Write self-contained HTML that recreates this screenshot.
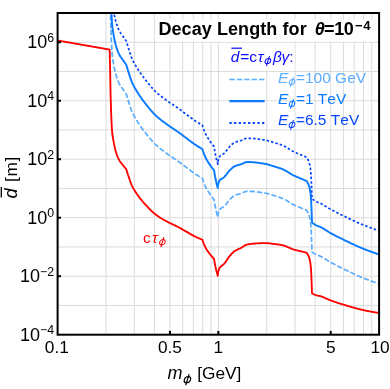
<!DOCTYPE html>
<html><head><meta charset="utf-8"><title>Decay Length</title>
<style>html,body{margin:0;padding:0;background:#fff;overflow:hidden}svg{display:block;will-change:transform}text{font-kerning:none}</style></head>
<body>
<svg width="390" height="389" viewBox="0 0 390 389">
<rect width="390" height="389" fill="#fff"/>
<defs><clipPath id="c"><rect x="57.60" y="13.00" width="321.50" height="321.70"/></clipPath></defs>
<g stroke="#dcdcdc" stroke-width="1" fill="none">
<line x1="105.99" y1="13.00" x2="105.99" y2="334.70"/>
<line x1="134.30" y1="13.00" x2="134.30" y2="334.70"/>
<line x1="154.38" y1="13.00" x2="154.38" y2="334.70"/>
<line x1="169.96" y1="13.00" x2="169.96" y2="334.70"/>
<line x1="182.69" y1="13.00" x2="182.69" y2="334.70"/>
<line x1="193.45" y1="13.00" x2="193.45" y2="334.70"/>
<line x1="202.77" y1="13.00" x2="202.77" y2="334.70"/>
<line x1="210.99" y1="13.00" x2="210.99" y2="334.70"/>
<line x1="218.35" y1="13.00" x2="218.35" y2="334.70"/>
<line x1="266.74" y1="13.00" x2="266.74" y2="334.70"/>
<line x1="295.05" y1="13.00" x2="295.05" y2="334.70"/>
<line x1="315.13" y1="13.00" x2="315.13" y2="334.70"/>
<line x1="330.71" y1="13.00" x2="330.71" y2="334.70"/>
<line x1="343.44" y1="13.00" x2="343.44" y2="334.70"/>
<line x1="354.20" y1="13.00" x2="354.20" y2="334.70"/>
<line x1="363.52" y1="13.00" x2="363.52" y2="334.70"/>
<line x1="371.74" y1="13.00" x2="371.74" y2="334.70"/>
<line x1="57.60" y1="305.45" x2="379.10" y2="305.45"/>
<line x1="57.60" y1="276.21" x2="379.10" y2="276.21"/>
<line x1="57.60" y1="246.96" x2="379.10" y2="246.96"/>
<line x1="57.60" y1="217.72" x2="379.10" y2="217.72"/>
<line x1="57.60" y1="188.47" x2="379.10" y2="188.47"/>
<line x1="57.60" y1="159.23" x2="379.10" y2="159.23"/>
<line x1="57.60" y1="129.98" x2="379.10" y2="129.98"/>
<line x1="57.60" y1="100.74" x2="379.10" y2="100.74"/>
<line x1="57.60" y1="71.49" x2="379.10" y2="71.49"/>
<line x1="57.60" y1="42.25" x2="379.10" y2="42.25"/>
</g>
<g clip-path="url(#c)" fill="none" stroke-linejoin="round">
<path d="M109.65 -28.67L109.65 -28.67L109.66 -28.16L109.68 -27.66L109.69 -27.16L109.70 -26.66L109.71 -26.16L109.73 -25.65L109.74 -25.15L109.75 -24.65L109.76 -24.15L109.78 -23.65L109.79 -23.14L109.80 -22.64L109.81 -22.14L109.83 -21.64L109.84 -21.13L109.85 -20.63L109.86 -20.13L109.87 -19.63L109.89 -19.13L109.90 -18.62L109.91 -18.12L109.92 -17.62L109.93 -17.12L109.94 -16.62L109.96 -16.11L109.97 -15.61L109.98 -15.11L109.99 -14.61L110.00 -14.11L110.01 -13.61L110.02 -13.10L110.04 -12.60L110.05 -12.10L110.06 -11.60L110.07 -11.10L110.08 -10.59L110.09 -10.09L110.10 -9.59L110.11 -9.09L110.12 -8.59L110.13 -8.08L110.14 -7.58L110.15 -7.08L110.16 -6.58L110.17 -6.08L110.18 -5.58L110.19 -5.07L110.20 -4.57L110.21 -4.07L110.22 -3.57L110.23 -3.07L110.24 -2.57L110.25 -2.06L110.26 -1.56L110.27 -1.06L110.28 -0.56L110.28 -0.06L110.29 0.44L110.30 0.94L110.31 1.45L110.32 1.95L110.33 2.45L110.33 2.95L110.34 3.45L110.35 3.95L110.36 4.45L110.37 4.96L110.38 5.46L110.39 5.96L110.39 6.46L110.40 6.96L110.41 7.46L110.42 7.97L110.43 8.47L110.44 8.97L110.45 9.47L110.46 9.97L110.47 10.47L110.47 10.97L110.48 11.48L110.49 11.98L110.50 12.48L110.51 12.98L110.52 13.48L110.53 13.98L110.55 14.49L110.56 14.99L110.57 15.49L110.58 15.99L110.59 16.49L110.60 17.00L110.61 17.50L110.63 18.00L110.64 18.50L110.65 19.01L110.67 19.51L110.68 20.01L110.70 20.51L110.71 21.01L110.73 21.52L110.74 22.02L110.76 22.52L110.77 23.03L110.79 23.53L110.81 24.03L110.82 24.53L110.84 25.04L110.86 25.54L110.87 26.04L110.89 26.54L110.90 27.05L110.92 27.55L110.93 28.05L110.95 28.55L110.96 29.06L110.98 29.56L110.99 30.06L111.01 30.56L111.03 31.07L111.04 31.57L111.06 32.07L111.07 32.57L111.09 33.08L111.10 33.58L111.12 34.08L111.14 34.59L111.16 35.09L111.17 35.59L111.19 36.09L111.21 36.60L111.23 37.10L111.25 37.60L111.27 38.11L111.29 38.61L111.31 39.11L111.33 39.62L111.35 40.12L111.37 40.62L111.39 41.13L111.41 41.63L111.44 42.14L111.46 42.64L111.48 43.14L111.50 43.65L111.53 44.15L111.55 44.66L111.58 45.16L111.60 45.67L111.63 46.17L111.65 46.68L111.68 47.18L111.71 47.68L111.74 48.19L111.76 48.69L111.80 49.20L111.83 49.70L111.86 50.21L111.89 50.71L111.93 51.22L111.96 51.72L112.00 52.23L112.03 52.73L112.07 53.23L112.11 53.74L112.15 54.24L112.20 54.75L112.25 55.25L112.31 55.76L112.37 56.27L112.43 56.78L112.50 57.28L112.57 57.79L112.65 58.30L112.72 58.81L112.80 59.32L112.88 59.83L112.96 60.34L113.05 60.84L113.13 61.35L113.21 61.86L113.30 62.37L113.38 62.88L113.46 63.39L113.55 63.89L113.64 64.40L113.73 64.91L113.82 65.42L113.92 65.93L114.01 66.44L114.11 66.95L114.22 67.45L114.32 67.96L114.43 68.47L114.53 68.98L114.64 69.48L114.76 69.99L114.87 70.50L114.98 71.01L115.10 71.52L115.22 72.03L115.34 72.54L115.47 73.05L115.59 73.56L115.73 74.06L115.86 74.57L116.00 75.08L116.14 75.58L116.29 76.08L116.44 76.59L116.59 77.09L116.75 77.58L116.92 78.08L117.10 78.58L117.28 79.08L117.47 79.58L117.66 80.08L117.86 80.58L118.07 81.08L118.29 81.58L118.51 82.07L118.73 82.56L118.97 83.05L119.20 83.53L119.45 84.01L119.69 84.48L119.95 84.94L120.22 85.41L120.50 85.86L120.80 86.32L121.11 86.77L121.43 87.21L121.75 87.66L122.07 88.10L122.40 88.55L122.73 88.99L123.05 89.44L123.37 89.88L123.68 90.33L123.99 90.78L124.30 91.23L124.61 91.67L124.93 92.12L125.24 92.57L125.56 93.01L125.87 93.46L126.19 93.90L126.30 94.06L126.30 94.06L126.45 94.57L126.59 95.07L126.74 95.58L126.89 96.08L127.04 96.59L127.19 97.09L127.34 97.59L127.49 98.10L127.64 98.60L127.80 99.11L127.95 99.61L128.11 100.11L128.26 100.62L128.42 101.12L128.58 101.62L128.74 102.13L128.90 102.63L129.06 103.13L129.22 103.63L129.39 104.14L129.55 104.64L129.71 105.14L129.88 105.64L130.04 106.15L130.20 106.65L130.36 107.16L130.52 107.66L130.69 108.17L130.86 108.67L131.03 109.17L131.21 109.66L131.40 110.16L131.60 110.65L131.80 111.13L132.02 111.62L132.23 112.11L132.46 112.59L132.69 113.08L132.92 113.56L133.16 114.05L133.41 114.53L133.66 115.01L133.92 115.49L134.17 115.97L134.44 116.45L134.70 116.92L134.97 117.40L135.24 117.87L135.51 118.35L135.79 118.82L136.07 119.29L136.35 119.76L136.63 120.22L136.91 120.69L137.19 121.15L137.47 121.61L137.75 122.07L138.04 122.53L138.33 122.98L138.62 123.44L138.92 123.89L139.22 124.35L139.52 124.80L139.83 125.25L140.14 125.70L140.45 126.15L140.76 126.60L141.08 127.05L141.40 127.49L141.72 127.94L142.04 128.38L142.37 128.83L142.69 129.27L143.02 129.71L143.35 130.14L143.68 130.58L144.02 131.02L144.35 131.45L144.68 131.88L145.02 132.32L145.36 132.75L145.69 133.17L146.03 133.60L146.37 134.03L146.71 134.46L147.05 134.89L147.39 135.32L147.73 135.75L148.08 136.18L148.43 136.60L148.77 137.03L149.12 137.46L149.47 137.89L149.83 138.31L150.18 138.73L150.54 139.15L150.90 139.57L151.26 139.99L151.62 140.41L151.98 140.82L152.35 141.23L152.72 141.64L153.09 142.04L153.46 142.44L153.84 142.84L154.22 143.23L154.60 143.62L154.98 144.00L155.36 144.38L155.75 144.75L156.14 145.12L156.54 145.49L156.94 145.85L157.34 146.21L157.75 146.57L158.16 146.92L158.58 147.27L158.99 147.62L159.42 147.97L159.84 148.31L160.27 148.65L160.70 148.99L161.13 149.32L161.56 149.66L162.00 149.99L162.44 150.32L162.87 150.65L163.31 150.98L163.75 151.31L164.19 151.63L164.63 151.96L165.07 152.28L165.51 152.60L165.95 152.92L166.38 153.25L166.82 153.56L167.26 153.88L167.70 154.19L168.14 154.51L168.59 154.81L169.03 155.12L169.48 155.43L169.93 155.73L170.38 156.03L170.83 156.33L171.28 156.63L171.73 156.93L172.18 157.23L172.63 157.53L173.08 157.83L173.53 158.13L173.99 158.43L174.44 158.72L174.89 159.02L175.34 159.32L175.79 159.63L176.24 159.93L176.68 160.23L177.13 160.54L177.58 160.85L178.02 161.16L178.46 161.47L178.90 161.79L179.34 162.11L179.78 162.43L180.22 162.75L180.65 163.08L181.08 163.40L181.52 163.73L181.95 164.06L182.38 164.39L182.82 164.72L183.25 165.05L183.68 165.38L184.12 165.71L184.55 166.03L184.98 166.36L185.42 166.69L185.86 167.01L186.29 167.34L186.72 167.67L187.16 167.99L187.59 168.32L188.03 168.65L188.46 168.98L188.89 169.31L189.33 169.64L189.76 169.97L190.19 170.30L190.63 170.63L191.06 170.95L191.50 171.28L191.94 171.60L192.38 171.92L192.82 172.24L193.26 172.56L193.70 172.87L194.14 173.18L194.59 173.49L195.03 173.79L195.48 174.09L195.93 174.39L196.38 174.68L196.83 174.97L197.29 175.26L197.74 175.55L198.20 175.83L198.66 176.11L199.12 176.39L199.58 176.67L200.04 176.95L200.51 177.22L200.97 177.49L201.44 177.76L201.91 178.03L202.37 178.29L202.40 178.31L202.40 178.31L202.54 178.82L202.69 179.33L202.85 179.84L203.01 180.35L203.18 180.86L203.35 181.36L203.53 181.87L203.72 182.37L203.91 182.87L204.10 183.36L204.30 183.86L204.51 184.35L204.72 184.84L204.93 185.33L205.15 185.81L205.36 186.30L205.59 186.78L205.81 187.26L206.05 187.73L206.29 188.21L206.54 188.68L206.81 189.15L207.08 189.63L207.35 190.09L207.64 190.56L207.92 191.03L208.22 191.49L208.51 191.95L208.81 192.41L209.11 192.87L209.42 193.33L209.72 193.78L210.03 194.23L210.33 194.68L210.64 195.12L210.96 195.57L211.28 196.01L211.60 196.45L211.93 196.89L212.26 197.32L212.59 197.76L212.93 198.19L213.27 198.62L213.62 199.05L213.96 199.47L214.10 199.64L214.10 199.64L214.17 200.15L214.24 200.66L214.31 201.16L214.39 201.67L214.47 202.18L214.55 202.69L214.63 203.20L214.72 203.71L214.81 204.22L214.90 204.73L214.99 205.23L215.09 205.74L215.18 206.25L215.28 206.76L215.38 207.27L215.48 207.77L215.59 208.28L215.69 208.79L215.80 209.30L215.91 209.80L216.02 210.31L216.13 210.82L216.24 211.32L216.36 211.83L216.48 212.34L216.60 212.84L216.73 213.35L216.86 213.86L217.00 214.36L217.14 214.87L217.28 215.37L217.42 215.88L217.56 216.39L217.71 216.89L217.80 217.21L217.80 217.21L217.81 216.65L217.84 216.11L217.88 215.58L217.94 215.06L218.01 214.55L218.09 214.05L218.19 213.57L218.30 213.09L218.41 212.63L218.54 212.19L218.67 211.75L218.81 211.33L218.95 210.92L219.10 210.52L219.25 210.14L219.45 209.78L219.70 209.45L220.00 209.14L220.34 208.85L220.71 208.58L221.10 208.32L221.51 208.06L221.93 207.81L222.36 207.56L222.79 207.30L223.20 207.04L223.60 206.77L223.98 206.49L224.32 206.19L224.64 205.86L224.95 205.53L225.25 205.19L225.54 204.84L225.83 204.48L226.11 204.12L226.39 203.75L226.67 203.38L226.94 203.01L227.21 202.63L227.49 202.26L227.77 201.89L228.05 201.53L228.33 201.17L228.62 200.81L228.92 200.46L229.22 200.13L229.54 199.80L229.86 199.48L230.18 199.15L230.51 198.82L230.84 198.49L231.17 198.17L231.51 197.85L231.85 197.54L232.20 197.23L232.56 196.94L232.92 196.65L233.29 196.38L233.66 196.12L234.04 195.88L234.42 195.66L234.82 195.46L235.23 195.27L235.65 195.10L236.08 194.95L236.53 194.80L236.98 194.67L237.44 194.54L237.90 194.41L238.36 194.29L238.83 194.17L239.29 194.05L239.75 193.92L240.21 193.78L240.66 193.64L241.10 193.49L241.54 193.31L241.97 193.12L242.41 192.92L242.84 192.72L243.27 192.51L243.70 192.31L244.13 192.11L244.56 191.93L245.00 191.76L245.44 191.61L245.88 191.49L246.33 191.40L246.79 191.34L247.25 191.31L247.73 191.29L248.20 191.28L248.69 191.28L249.18 191.28L249.67 191.29L250.17 191.30L250.67 191.32L251.17 191.34L251.67 191.37L252.18 191.41L252.68 191.44L253.19 191.49L253.69 191.54L254.20 191.59L254.70 191.64L255.20 191.70L255.69 191.76L256.19 191.82L256.69 191.89L257.19 191.95L257.69 192.01L258.19 192.08L258.69 192.14L259.19 192.21L259.69 192.28L260.19 192.35L260.69 192.42L261.19 192.49L261.69 192.57L262.19 192.64L262.69 192.72L263.19 192.80L263.69 192.88L264.19 192.96L264.69 193.05L265.19 193.13L265.69 193.22L266.19 193.32L266.69 193.43L267.18 193.55L267.68 193.67L268.18 193.81L268.68 193.95L269.17 194.10L269.67 194.25L270.17 194.40L270.67 194.56L271.16 194.72L271.66 194.88L272.16 195.04L272.65 195.20L273.15 195.35L273.65 195.50L274.14 195.65L274.64 195.80L275.14 195.95L275.64 196.10L276.14 196.25L276.64 196.41L277.14 196.56L277.64 196.72L278.13 196.88L278.63 197.04L279.13 197.20L279.62 197.36L280.11 197.53L280.61 197.70L281.09 197.88L281.58 198.05L282.07 198.24L282.55 198.42L283.03 198.62L283.50 198.84L283.98 199.06L284.45 199.30L284.92 199.54L285.39 199.80L285.85 200.06L286.32 200.33L286.78 200.61L287.24 200.89L287.71 201.18L288.17 201.47L288.63 201.76L289.09 202.05L289.55 202.34L290.02 202.63L290.48 202.92L290.94 203.20L291.41 203.48L291.87 203.75L292.34 204.02L292.81 204.27L293.29 204.52L293.76 204.76L294.24 204.99L294.72 205.21L295.20 205.43L295.68 205.64L296.17 205.86L296.65 206.06L297.14 206.27L297.63 206.47L298.11 206.68L298.60 206.88L299.09 207.08L299.58 207.29L300.06 207.50L300.55 207.70L301.03 207.91L301.52 208.12L302.00 208.33L302.49 208.53L302.98 208.74L303.46 208.95L303.95 209.15L304.43 209.36L304.92 209.56L305.41 209.77L305.89 209.97L306.38 210.18L306.60 210.27L306.60 210.27L306.88 210.75L307.16 211.23L307.43 211.72L307.70 212.20L307.95 212.69L308.20 213.18L308.43 213.67L308.65 214.16L308.85 214.65L309.02 215.14L309.18 215.63L309.31 216.12L309.43 216.61L309.55 217.10L309.66 217.60L309.76 218.10L309.87 218.61L309.96 219.11L310.06 219.62L310.15 220.13L310.23 220.65L310.31 221.16L310.39 221.67L310.46 222.19L310.53 222.70L310.59 223.22L310.65 223.73L310.71 224.25L310.76 224.76L310.81 225.27L310.85 225.77L310.89 226.28L310.93 226.78L310.97 227.29L311.00 227.79L311.03 228.29L311.07 228.80L311.10 229.30L311.12 229.81L311.15 230.31L311.18 230.81L311.20 231.32L311.22 231.82L311.25 232.33L311.27 232.83L311.29 233.34L311.31 233.84L311.33 234.34L311.35 234.85L311.37 235.35L311.39 235.86L311.41 236.36L311.43 236.86L311.45 237.37L311.47 237.87L311.50 238.37L311.52 238.88L311.54 239.38L311.56 239.88L311.58 240.39L311.60 240.89L311.62 241.39L311.64 241.90L311.66 242.40L311.68 242.90L311.70 243.41L311.72 243.91L311.74 244.41L311.76 244.92L311.78 245.42L311.80 245.92L311.82 246.43L311.84 246.93L311.85 247.43L311.87 247.94L311.89 248.44L311.91 248.94L311.92 249.44L311.94 249.95L311.96 250.45L311.97 250.95L311.99 251.45L312.00 251.76L312.00 251.76L312.43 252.12L312.87 252.46L313.32 252.80L313.77 253.12L314.22 253.42L314.67 253.72L315.14 254.00L315.60 254.26L316.07 254.51L316.54 254.75L317.01 254.97L317.49 255.18L317.97 255.36L318.47 255.53L318.97 255.69L319.46 255.87L319.95 256.06L320.42 256.27L320.90 256.50L321.37 256.73L321.84 256.98L322.30 257.24L322.77 257.50L323.23 257.78L323.69 258.06L324.15 258.34L324.61 258.63L325.07 258.93L325.53 259.22L325.98 259.52L326.44 259.82L326.90 260.11L327.36 260.41L327.82 260.70L328.28 260.99L328.74 261.27L329.20 261.55L329.67 261.82L330.14 262.08L330.61 262.33L331.08 262.59L331.55 262.84L332.02 263.09L332.49 263.35L332.96 263.60L333.43 263.85L333.91 264.10L334.38 264.35L334.85 264.59L335.33 264.84L335.80 265.09L336.27 265.33L336.75 265.58L337.22 265.82L337.70 266.06L338.17 266.31L338.65 266.55L339.13 266.79L339.60 267.03L340.08 267.27L340.56 267.51L341.03 267.74L341.51 267.98L341.99 268.22L342.47 268.45L342.95 268.69L343.42 268.92L343.90 269.15L344.38 269.39L344.86 269.62L345.34 269.85L345.82 270.08L346.30 270.31L346.77 270.54L347.25 270.77L347.73 271.00L348.21 271.23L348.69 271.46L349.17 271.69L349.65 271.92L350.13 272.14L350.61 272.37L351.09 272.60L351.57 272.83L352.06 273.05L352.54 273.28L353.02 273.50L353.50 273.73L353.98 273.95L354.46 274.17L354.95 274.40L355.43 274.62L355.91 274.84L356.40 275.05L356.88 275.27L357.36 275.49L357.85 275.70L358.33 275.91L358.82 276.13L359.30 276.34L359.79 276.54L360.27 276.75L360.76 276.96L361.24 277.16L361.73 277.36L362.22 277.56L362.70 277.76L363.19 277.95L363.68 278.15L364.17 278.34L364.65 278.54L365.14 278.73L365.63 278.92L366.12 279.12L366.61 279.31L367.10 279.50L367.59 279.69L368.08 279.87L368.57 280.06L369.06 280.25L369.55 280.43L370.04 280.62L370.53 280.80L371.02 280.99L371.51 281.17L372.01 281.35L372.50 281.53L372.99 281.71L373.48 281.88L373.98 282.06L374.47 282.24L374.96 282.41L375.46 282.58L375.95 282.75L376.45 282.93L376.94 283.09L377.44 283.26L377.93 283.43L378.43 283.60L378.92 283.76L379.10 283.82" stroke="#5badff" stroke-width="1.7" stroke-dasharray="5.3 2.03"/>
<path d="M110.27 -30.31L110.28 -29.81L110.28 -29.30L110.29 -28.80L110.30 -28.30L110.31 -27.80L110.32 -27.30L110.33 -26.80L110.33 -26.30L110.34 -25.79L110.35 -25.29L110.36 -24.79L110.37 -24.29L110.38 -23.79L110.39 -23.29L110.39 -22.78L110.40 -22.28L110.41 -21.78L110.42 -21.28L110.43 -20.78L110.44 -20.28L110.45 -19.78L110.46 -19.27L110.47 -18.77L110.47 -18.27L110.48 -17.77L110.49 -17.27L110.50 -16.77L110.51 -16.26L110.52 -15.76L110.53 -15.26L110.55 -14.76L110.56 -14.26L110.57 -13.76L110.58 -13.25L110.59 -12.75L110.60 -12.25L110.61 -11.75L110.63 -11.24L110.64 -10.74L110.65 -10.24L110.67 -9.74L110.68 -9.24L110.70 -8.73L110.71 -8.23L110.73 -7.73L110.74 -7.23L110.76 -6.72L110.77 -6.22L110.79 -5.72L110.81 -5.21L110.82 -4.71L110.84 -4.21L110.86 -3.71L110.87 -3.20L110.89 -2.70L110.90 -2.20L110.92 -1.70L110.93 -1.19L110.95 -0.69L110.96 -0.19L110.98 0.31L110.99 0.82L111.01 1.32L111.03 1.82L111.04 2.32L111.06 2.83L111.07 3.33L111.09 3.83L111.10 4.33L111.12 4.84L111.14 5.34L111.16 5.84L111.17 6.35L111.19 6.85L111.21 7.35L111.23 7.86L111.25 8.36L111.27 8.86L111.29 9.36L111.31 9.87L111.33 10.37L111.35 10.88L111.37 11.38L111.39 11.88L111.41 12.39L111.44 12.89L111.46 13.40L111.48 13.90L111.50 14.40L111.53 14.91L111.55 15.41L111.58 15.92L111.60 16.42L111.63 16.93L111.65 17.43L111.68 17.93L111.71 18.44L111.74 18.94L111.76 19.45L111.80 19.95L111.83 20.46L111.86 20.96L111.89 21.47L111.93 21.97L111.96 22.48L112.00 22.98L112.03 23.48L112.07 23.99L112.11 24.49L112.15 25.00L112.20 25.50L112.25 26.01L112.31 26.52L112.37 27.02L112.43 27.53L112.50 28.04L112.57 28.55L112.65 29.05L112.72 29.56L112.80 30.07L112.88 30.58L112.96 31.09L113.05 31.60L113.13 32.11L113.21 32.62L113.30 33.12L113.38 33.63L113.46 34.14L113.55 34.65L113.64 35.16L113.73 35.67L113.82 36.17L113.92 36.68L114.01 37.19L114.11 37.70L114.22 38.21L114.32 38.72L114.43 39.22L114.53 39.73L114.64 40.24L114.76 40.75L114.87 41.26L114.98 41.76L115.10 42.27L115.22 42.78L115.34 43.29L115.47 43.80L115.59 44.31L115.73 44.82L115.86 45.33L116.00 45.83L116.14 46.34L116.29 46.84L116.44 47.34L116.59 47.84L116.75 48.34L116.92 48.84L117.10 49.34L117.28 49.84L117.47 50.34L117.66 50.84L117.86 51.34L118.07 51.84L118.29 52.33L118.51 52.83L118.73 53.32L118.97 53.80L119.20 54.28L119.45 54.76L119.69 55.23L119.95 55.70L120.22 56.16L120.50 56.62L120.80 57.07L121.11 57.52L121.43 57.97L121.75 58.41L122.07 58.86L122.40 59.30L122.73 59.75L123.05 60.19L123.37 60.64L123.68 61.09L123.99 61.53L124.30 61.98L124.61 62.43L124.93 62.88L125.24 63.32L125.56 63.77L125.87 64.21L126.19 64.66L126.30 64.82L126.30 64.82L126.45 65.32L126.59 65.83L126.74 66.33L126.89 66.84L127.04 67.34L127.19 67.84L127.34 68.35L127.49 68.85L127.64 69.36L127.80 69.86L127.95 70.36L128.11 70.87L128.26 71.37L128.42 71.87L128.58 72.38L128.74 72.88L128.90 73.38L129.06 73.88L129.22 74.39L129.39 74.89L129.55 75.39L129.71 75.89L129.88 76.40L130.04 76.90L130.20 77.40L130.36 77.91L130.52 78.42L130.69 78.92L130.86 79.42L131.03 79.92L131.21 80.42L131.40 80.91L131.60 81.40L131.80 81.89L132.02 82.38L132.23 82.86L132.46 83.35L132.69 83.83L132.92 84.32L133.16 84.80L133.41 85.28L133.66 85.76L133.92 86.24L134.17 86.72L134.44 87.20L134.70 87.68L134.97 88.15L135.24 88.63L135.51 89.10L135.79 89.57L136.07 90.04L136.35 90.51L136.63 90.98L136.91 91.44L137.19 91.90L137.47 92.36L137.75 92.82L138.04 93.28L138.33 93.74L138.62 94.19L138.92 94.65L139.22 95.10L139.52 95.56L139.83 96.01L140.14 96.46L140.45 96.91L140.76 97.36L141.08 97.80L141.40 98.25L141.72 98.69L142.04 99.14L142.37 99.58L142.69 100.02L143.02 100.46L143.35 100.90L143.68 101.34L144.02 101.77L144.35 102.21L144.68 102.64L145.02 103.07L145.36 103.50L145.69 103.93L146.03 104.36L146.37 104.78L146.71 105.21L147.05 105.64L147.39 106.07L147.73 106.50L148.08 106.93L148.43 107.36L148.77 107.79L149.12 108.21L149.47 108.64L149.83 109.06L150.18 109.49L150.54 109.91L150.90 110.33L151.26 110.75L151.62 111.16L151.98 111.57L152.35 111.98L152.72 112.39L153.09 112.79L153.46 113.19L153.84 113.59L154.22 113.98L154.60 114.37L154.98 114.75L155.36 115.13L155.75 115.51L156.14 115.88L156.54 116.24L156.94 116.61L157.34 116.97L157.75 117.32L158.16 117.68L158.58 118.03L158.99 118.37L159.42 118.72L159.84 119.06L160.27 119.40L160.70 119.74L161.13 120.08L161.56 120.41L162.00 120.75L162.44 121.08L162.87 121.41L163.31 121.74L163.75 122.06L164.19 122.39L164.63 122.71L165.07 123.03L165.51 123.36L165.95 123.68L166.38 124.00L166.82 124.32L167.26 124.64L167.70 124.95L168.14 125.26L168.59 125.57L169.03 125.88L169.48 126.18L169.93 126.49L170.38 126.79L170.83 127.09L171.28 127.39L171.73 127.69L172.18 127.99L172.63 128.28L173.08 128.58L173.53 128.88L173.99 129.18L174.44 129.48L174.89 129.78L175.34 130.08L175.79 130.38L176.24 130.68L176.68 130.99L177.13 131.29L177.58 131.60L178.02 131.91L178.46 132.23L178.90 132.54L179.34 132.86L179.78 133.18L180.22 133.50L180.65 133.83L181.08 134.16L181.52 134.48L181.95 134.81L182.38 135.14L182.82 135.47L183.25 135.80L183.68 136.13L184.12 136.46L184.55 136.79L184.98 137.12L185.42 137.44L185.86 137.77L186.29 138.09L186.72 138.42L187.16 138.75L187.59 139.08L188.03 139.41L188.46 139.74L188.89 140.07L189.33 140.40L189.76 140.73L190.19 141.06L190.63 141.38L191.06 141.71L191.50 142.03L191.94 142.36L192.38 142.68L192.82 143.00L193.26 143.31L193.70 143.62L194.14 143.93L194.59 144.24L195.03 144.54L195.48 144.84L195.93 145.14L196.38 145.43L196.83 145.73L197.29 146.02L197.74 146.30L198.20 146.59L198.66 146.87L199.12 147.15L199.58 147.43L200.04 147.70L200.51 147.98L200.97 148.25L201.44 148.52L201.91 148.78L202.37 149.05L202.40 149.06L202.40 149.06L202.54 149.58L202.69 150.09L202.85 150.60L203.01 151.11L203.18 151.61L203.35 152.12L203.53 152.62L203.72 153.12L203.91 153.62L204.10 154.12L204.30 154.61L204.51 155.10L204.72 155.59L204.93 156.08L205.15 156.57L205.36 157.05L205.59 157.53L205.81 158.01L206.05 158.49L206.29 158.96L206.54 159.44L206.81 159.91L207.08 160.38L207.35 160.85L207.64 161.32L207.92 161.78L208.22 162.25L208.51 162.71L208.81 163.17L209.11 163.62L209.42 164.08L209.72 164.53L210.03 164.98L210.33 165.43L210.64 165.88L210.96 166.32L211.28 166.76L211.60 167.20L211.93 167.64L212.26 168.08L212.59 168.51L212.93 168.94L213.27 169.37L213.62 169.80L213.96 170.23L214.10 170.39L214.10 170.39L214.17 170.90L214.24 171.41L214.31 171.92L214.39 172.43L214.47 172.94L214.55 173.45L214.63 173.95L214.72 174.46L214.81 174.97L214.90 175.48L214.99 175.99L215.09 176.50L215.18 177.01L215.28 177.51L215.38 178.02L215.48 178.53L215.59 179.04L215.69 179.54L215.80 180.05L215.91 180.56L216.02 181.06L216.13 181.57L216.24 182.08L216.36 182.58L216.48 183.09L216.60 183.60L216.73 184.10L216.86 184.61L217.00 185.12L217.14 185.62L217.28 186.13L217.42 186.63L217.56 187.14L217.71 187.65L217.80 187.96L217.80 187.96L217.81 187.41L217.84 186.86L217.88 186.33L217.94 185.81L218.01 185.30L218.09 184.80L218.19 184.32L218.30 183.85L218.41 183.39L218.54 182.94L218.67 182.50L218.81 182.08L218.95 181.67L219.10 181.28L219.25 180.89L219.45 180.54L219.70 180.21L220.00 179.90L220.34 179.61L220.71 179.33L221.10 179.07L221.51 178.81L221.93 178.56L222.36 178.31L222.79 178.06L223.20 177.80L223.60 177.53L223.98 177.24L224.32 176.94L224.64 176.62L224.95 176.29L225.25 175.94L225.54 175.59L225.83 175.24L226.11 174.87L226.39 174.50L226.67 174.13L226.94 173.76L227.21 173.39L227.49 173.02L227.77 172.65L228.05 172.28L228.33 171.92L228.62 171.56L228.92 171.22L229.22 170.88L229.54 170.55L229.86 170.23L230.18 169.90L230.51 169.58L230.84 169.25L231.17 168.92L231.51 168.60L231.85 168.29L232.20 167.98L232.56 167.69L232.92 167.40L233.29 167.13L233.66 166.88L234.04 166.64L234.42 166.41L234.82 166.21L235.23 166.03L235.65 165.86L236.08 165.70L236.53 165.56L236.98 165.42L237.44 165.29L237.90 165.17L238.36 165.05L238.83 164.92L239.29 164.80L239.75 164.67L240.21 164.54L240.66 164.39L241.10 164.24L241.54 164.07L241.97 163.88L242.41 163.68L242.84 163.47L243.27 163.27L243.70 163.06L244.13 162.87L244.56 162.68L245.00 162.51L245.44 162.37L245.88 162.24L246.33 162.15L246.79 162.09L247.25 162.06L247.73 162.05L248.20 162.04L248.69 162.03L249.18 162.04L249.67 162.04L250.17 162.06L250.67 162.07L251.17 162.10L251.67 162.13L252.18 162.16L252.68 162.20L253.19 162.24L253.69 162.29L254.20 162.34L254.70 162.40L255.20 162.46L255.69 162.52L256.19 162.58L256.69 162.64L257.19 162.70L257.69 162.77L258.19 162.83L258.69 162.90L259.19 162.96L259.69 163.03L260.19 163.10L260.69 163.17L261.19 163.24L261.69 163.32L262.19 163.39L262.69 163.47L263.19 163.55L263.69 163.63L264.19 163.71L264.69 163.80L265.19 163.89L265.69 163.98L266.19 164.07L266.69 164.18L267.18 164.30L267.68 164.42L268.18 164.56L268.68 164.70L269.17 164.85L269.67 165.00L270.17 165.16L270.67 165.31L271.16 165.47L271.66 165.63L272.16 165.79L272.65 165.95L273.15 166.10L273.65 166.25L274.14 166.40L274.64 166.55L275.14 166.70L275.64 166.85L276.14 167.01L276.64 167.16L277.14 167.31L277.64 167.47L278.13 167.63L278.63 167.79L279.13 167.95L279.62 168.11L280.11 168.28L280.61 168.45L281.09 168.63L281.58 168.81L282.07 168.99L282.55 169.17L283.03 169.37L283.50 169.59L283.98 169.81L284.45 170.05L284.92 170.29L285.39 170.55L285.85 170.81L286.32 171.08L286.78 171.36L287.24 171.64L287.71 171.93L288.17 172.22L288.63 172.51L289.09 172.80L289.55 173.09L290.02 173.38L290.48 173.66L290.94 173.95L291.41 174.23L291.87 174.50L292.34 174.76L292.81 175.02L293.29 175.27L293.76 175.51L294.24 175.74L294.72 175.96L295.20 176.18L295.68 176.39L296.17 176.60L296.65 176.81L297.14 177.02L297.63 177.22L298.11 177.43L298.60 177.63L299.09 177.83L299.58 178.04L300.06 178.24L300.55 178.45L301.03 178.66L301.52 178.87L302.00 179.07L302.49 179.28L302.98 179.49L303.46 179.69L303.95 179.90L304.43 180.11L304.92 180.31L305.41 180.52L305.89 180.72L306.38 180.93L306.60 181.02L306.60 181.02L306.88 181.50L307.16 181.98L307.43 182.47L307.70 182.95L307.95 183.44L308.20 183.93L308.43 184.41L308.65 184.90L308.85 185.39L309.02 185.88L309.18 186.37L309.31 186.86L309.43 187.35L309.55 187.85L309.66 188.35L309.76 188.85L309.87 189.35L309.96 189.86L310.06 190.37L310.15 190.88L310.23 191.39L310.31 191.91L310.39 192.42L310.46 192.94L310.53 193.45L310.59 193.96L310.65 194.48L310.71 194.99L310.76 195.50L310.81 196.01L310.85 196.52L310.89 197.03L310.93 197.53L310.97 198.03L311.00 198.54L311.03 199.04L311.07 199.54L311.10 200.05L311.12 200.55L311.15 201.06L311.18 201.56L311.20 202.06L311.22 202.57L311.25 203.07L311.27 203.58L311.29 204.08L311.31 204.59L311.33 205.09L311.35 205.59L311.37 206.10L311.39 206.60L311.41 207.11L311.43 207.61L311.45 208.11L311.47 208.62L311.50 209.12L311.52 209.62L311.54 210.13L311.56 210.63L311.58 211.13L311.60 211.64L311.62 212.14L311.64 212.64L311.66 213.15L311.68 213.65L311.70 214.15L311.72 214.66L311.74 215.16L311.76 215.66L311.78 216.17L311.80 216.67L311.82 217.17L311.84 217.67L311.85 218.18L311.87 218.68L311.89 219.18L311.91 219.69L311.92 220.19L311.94 220.69L311.96 221.19L311.97 221.70L311.99 222.20L312.00 222.50L312.00 222.50L312.43 222.86L312.87 223.21L313.32 223.54L313.77 223.86L314.22 224.17L314.67 224.46L315.14 224.74L315.60 225.01L316.07 225.26L316.54 225.49L317.01 225.71L317.49 225.92L317.97 226.10L318.47 226.27L318.97 226.44L319.46 226.61L319.95 226.80L320.42 227.02L320.90 227.24L321.37 227.48L321.84 227.72L322.30 227.98L322.77 228.24L323.23 228.52L323.69 228.80L324.15 229.08L324.61 229.37L325.07 229.67L325.53 229.96L325.98 230.26L326.44 230.56L326.90 230.85L327.36 231.15L327.82 231.44L328.28 231.73L328.74 232.01L329.20 232.29L329.67 232.56L330.14 232.82L330.61 233.07L331.08 233.33L331.55 233.58L332.02 233.83L332.49 234.08L332.96 234.34L333.43 234.59L333.91 234.84L334.38 235.08L334.85 235.33L335.33 235.58L335.80 235.82L336.27 236.07L336.75 236.31L337.22 236.56L337.70 236.80L338.17 237.04L338.65 237.28L339.13 237.52L339.60 237.76L340.08 238.00L340.56 238.24L341.03 238.48L341.51 238.71L341.99 238.95L342.47 239.18L342.95 239.42L343.42 239.65L343.90 239.89L344.38 240.12L344.86 240.35L345.34 240.58L345.82 240.81L346.30 241.04L346.77 241.27L347.25 241.50L347.73 241.73L348.21 241.96L348.69 242.19L349.17 242.41L349.65 242.64L350.13 242.87L350.61 243.10L351.09 243.33L351.57 243.55L352.06 243.78L352.54 244.00L353.02 244.23L353.50 244.45L353.98 244.68L354.46 244.90L354.95 245.12L355.43 245.34L355.91 245.56L356.40 245.78L356.88 245.99L357.36 246.21L357.85 246.42L358.33 246.63L358.82 246.84L359.30 247.05L359.79 247.26L360.27 247.47L360.76 247.67L361.24 247.87L361.73 248.08L362.22 248.27L362.70 248.47L363.19 248.67L363.68 248.86L364.17 249.06L364.65 249.25L365.14 249.44L365.63 249.64L366.12 249.83L366.61 250.02L367.10 250.21L367.59 250.40L368.08 250.58L368.57 250.77L369.06 250.96L369.55 251.14L370.04 251.33L370.53 251.51L371.02 251.69L371.51 251.87L372.01 252.05L372.50 252.23L372.99 252.41L373.48 252.58L373.98 252.76L374.47 252.94L374.96 253.11L375.46 253.28L375.95 253.45L376.45 253.62L376.94 253.79L377.44 253.96L377.93 254.12L378.43 254.29L378.92 254.45L379.10 254.51" stroke="#0a7bff" stroke-width="1.95"/>
<path d="M110.76 -30.50L110.77 -29.99L110.79 -29.49L110.81 -28.99L110.82 -28.49L110.84 -27.98L110.86 -27.48L110.87 -26.98L110.89 -26.48L110.90 -25.97L110.92 -25.47L110.93 -24.97L110.95 -24.47L110.96 -23.96L110.98 -23.46L110.99 -22.96L111.01 -22.46L111.03 -21.95L111.04 -21.45L111.06 -20.95L111.07 -20.44L111.09 -19.94L111.10 -19.44L111.12 -18.94L111.14 -18.43L111.16 -17.93L111.17 -17.43L111.19 -16.92L111.21 -16.42L111.23 -15.92L111.25 -15.42L111.27 -14.91L111.29 -14.41L111.31 -13.91L111.33 -13.40L111.35 -12.90L111.37 -12.39L111.39 -11.89L111.41 -11.39L111.44 -10.88L111.46 -10.38L111.48 -9.87L111.50 -9.37L111.53 -8.87L111.55 -8.36L111.58 -7.86L111.60 -7.35L111.63 -6.85L111.65 -6.34L111.68 -5.84L111.71 -5.34L111.74 -4.83L111.76 -4.33L111.80 -3.82L111.83 -3.32L111.86 -2.81L111.89 -2.31L111.93 -1.80L111.96 -1.30L112.00 -0.79L112.03 -0.29L112.07 0.22L112.11 0.72L112.15 1.22L112.20 1.73L112.25 2.23L112.31 2.74L112.37 3.25L112.43 3.76L112.50 4.26L112.57 4.77L112.65 5.28L112.72 5.79L112.80 6.30L112.88 6.81L112.96 7.32L113.05 7.83L113.13 8.33L113.21 8.84L113.30 9.35L113.38 9.86L113.46 10.37L113.55 10.87L113.64 11.38L113.73 11.89L113.82 12.40L113.92 12.91L114.01 13.42L114.11 13.93L114.22 14.43L114.32 14.94L114.43 15.45L114.53 15.96L114.64 16.46L114.76 16.97L114.87 17.48L114.98 17.99L115.10 18.50L115.22 19.01L115.34 19.52L115.47 20.03L115.59 20.54L115.73 21.04L115.86 21.55L116.00 22.06L116.14 22.56L116.29 23.07L116.44 23.57L116.59 24.07L116.75 24.56L116.92 25.06L117.10 25.56L117.28 26.06L117.47 26.56L117.66 27.06L117.86 27.56L118.07 28.06L118.29 28.56L118.51 29.05L118.73 29.54L118.97 30.03L119.20 30.51L119.45 30.99L119.69 31.46L119.95 31.93L120.22 32.39L120.50 32.84L120.80 33.30L121.11 33.75L121.43 34.19L121.75 34.64L122.07 35.08L122.40 35.53L122.73 35.97L123.05 36.42L123.37 36.87L123.68 37.31L123.99 37.76L124.30 38.21L124.61 38.65L124.93 39.10L125.24 39.55L125.56 39.99L125.87 40.44L126.19 40.88L126.30 41.04L126.30 41.04L126.45 41.55L126.59 42.05L126.74 42.56L126.89 43.06L127.04 43.57L127.19 44.07L127.34 44.57L127.49 45.08L127.64 45.58L127.80 46.09L127.95 46.59L128.11 47.09L128.26 47.60L128.42 48.10L128.58 48.60L128.74 49.11L128.90 49.61L129.06 50.11L129.22 50.61L129.39 51.12L129.55 51.62L129.71 52.12L129.88 52.62L130.04 53.13L130.20 53.63L130.36 54.14L130.52 54.64L130.69 55.15L130.86 55.65L131.03 56.15L131.21 56.64L131.40 57.14L131.60 57.63L131.80 58.11L132.02 58.60L132.23 59.09L132.46 59.57L132.69 60.06L132.92 60.54L133.16 61.03L133.41 61.51L133.66 61.99L133.92 62.47L134.17 62.95L134.44 63.43L134.70 63.90L134.97 64.38L135.24 64.85L135.51 65.33L135.79 65.80L136.07 66.27L136.35 66.74L136.63 67.20L136.91 67.67L137.19 68.13L137.47 68.59L137.75 69.05L138.04 69.51L138.33 69.96L138.62 70.42L138.92 70.87L139.22 71.33L139.52 71.78L139.83 72.23L140.14 72.68L140.45 73.13L140.76 73.58L141.08 74.03L141.40 74.48L141.72 74.92L142.04 75.36L142.37 75.81L142.69 76.25L143.02 76.69L143.35 77.12L143.68 77.56L144.02 78.00L144.35 78.43L144.68 78.86L145.02 79.30L145.36 79.73L145.69 80.15L146.03 80.58L146.37 81.01L146.71 81.44L147.05 81.87L147.39 82.30L147.73 82.73L148.08 83.16L148.43 83.58L148.77 84.01L149.12 84.44L149.47 84.87L149.83 85.29L150.18 85.71L150.54 86.14L150.90 86.55L151.26 86.97L151.62 87.39L151.98 87.80L152.35 88.21L152.72 88.62L153.09 89.02L153.46 89.42L153.84 89.82L154.22 90.21L154.60 90.60L154.98 90.98L155.36 91.36L155.75 91.73L156.14 92.10L156.54 92.47L156.94 92.83L157.34 93.19L157.75 93.55L158.16 93.90L158.58 94.25L158.99 94.60L159.42 94.95L159.84 95.29L160.27 95.63L160.70 95.97L161.13 96.31L161.56 96.64L162.00 96.97L162.44 97.30L162.87 97.63L163.31 97.96L163.75 98.29L164.19 98.61L164.63 98.94L165.07 99.26L165.51 99.58L165.95 99.90L166.38 100.23L166.82 100.54L167.26 100.86L167.70 101.17L168.14 101.49L168.59 101.80L169.03 102.10L169.48 102.41L169.93 102.71L170.38 103.01L170.83 103.31L171.28 103.61L171.73 103.91L172.18 104.21L172.63 104.51L173.08 104.81L173.53 105.11L173.99 105.41L174.44 105.70L174.89 106.00L175.34 106.31L175.79 106.61L176.24 106.91L176.68 107.21L177.13 107.52L177.58 107.83L178.02 108.14L178.46 108.45L178.90 108.77L179.34 109.09L179.78 109.41L180.22 109.73L180.65 110.06L181.08 110.38L181.52 110.71L181.95 111.04L182.38 111.37L182.82 111.70L183.25 112.03L183.68 112.36L184.12 112.69L184.55 113.01L184.98 113.34L185.42 113.67L185.86 113.99L186.29 114.32L186.72 114.65L187.16 114.97L187.59 115.30L188.03 115.63L188.46 115.96L188.89 116.29L189.33 116.62L189.76 116.95L190.19 117.28L190.63 117.61L191.06 117.93L191.50 118.26L191.94 118.58L192.38 118.90L192.82 119.22L193.26 119.54L193.70 119.85L194.14 120.16L194.59 120.47L195.03 120.77L195.48 121.07L195.93 121.37L196.38 121.66L196.83 121.95L197.29 122.24L197.74 122.53L198.20 122.81L198.66 123.09L199.12 123.37L199.58 123.65L200.04 123.93L200.51 124.20L200.97 124.47L201.44 124.74L201.91 125.01L202.37 125.27L202.40 125.29L202.40 125.29L202.54 125.80L202.69 126.31L202.85 126.82L203.01 127.33L203.18 127.84L203.35 128.34L203.53 128.85L203.72 129.35L203.91 129.85L204.10 130.34L204.30 130.84L204.51 131.33L204.72 131.82L204.93 132.31L205.15 132.79L205.36 133.28L205.59 133.76L205.81 134.24L206.05 134.71L206.29 135.19L206.54 135.66L206.81 136.13L207.08 136.61L207.35 137.08L207.64 137.54L207.92 138.01L208.22 138.47L208.51 138.93L208.81 139.39L209.11 139.85L209.42 140.31L209.72 140.76L210.03 141.21L210.33 141.66L210.64 142.10L210.96 142.55L211.28 142.99L211.60 143.43L211.93 143.87L212.26 144.30L212.59 144.74L212.93 145.17L213.27 145.60L213.62 146.03L213.96 146.45L214.10 146.62L214.10 146.62L214.17 147.13L214.24 147.64L214.31 148.14L214.39 148.65L214.47 149.16L214.55 149.67L214.63 150.18L214.72 150.69L214.81 151.20L214.90 151.71L214.99 152.21L215.09 152.72L215.18 153.23L215.28 153.74L215.38 154.25L215.48 154.75L215.59 155.26L215.69 155.77L215.80 156.28L215.91 156.78L216.02 157.29L216.13 157.80L216.24 158.30L216.36 158.81L216.48 159.32L216.60 159.82L216.73 160.33L216.86 160.84L217.00 161.34L217.14 161.85L217.28 162.35L217.42 162.86L217.56 163.37L217.71 163.87L217.80 164.19L217.80 164.19L217.81 163.63L217.84 163.09L217.88 162.56L217.94 162.04L218.01 161.53L218.09 161.03L218.19 160.55L218.30 160.07L218.41 159.61L218.54 159.17L218.67 158.73L218.81 158.31L218.95 157.90L219.10 157.50L219.25 157.12L219.45 156.76L219.70 156.43L220.00 156.12L220.34 155.83L220.71 155.56L221.10 155.30L221.51 155.04L221.93 154.79L222.36 154.54L222.79 154.28L223.20 154.02L223.60 153.75L223.98 153.47L224.32 153.16L224.64 152.84L224.95 152.51L225.25 152.17L225.54 151.82L225.83 151.46L226.11 151.10L226.39 150.73L226.67 150.36L226.94 149.99L227.21 149.61L227.49 149.24L227.77 148.87L228.05 148.51L228.33 148.15L228.62 147.79L228.92 147.44L229.22 147.11L229.54 146.78L229.86 146.46L230.18 146.13L230.51 145.80L230.84 145.47L231.17 145.15L231.51 144.83L231.85 144.52L232.20 144.21L232.56 143.91L232.92 143.63L233.29 143.36L233.66 143.10L234.04 142.86L234.42 142.64L234.82 142.44L235.23 142.25L235.65 142.08L236.08 141.93L236.53 141.78L236.98 141.65L237.44 141.52L237.90 141.39L238.36 141.27L238.83 141.15L239.29 141.03L239.75 140.90L240.21 140.76L240.66 140.62L241.10 140.47L241.54 140.29L241.97 140.10L242.41 139.90L242.84 139.70L243.27 139.49L243.70 139.29L244.13 139.09L244.56 138.91L245.00 138.74L245.44 138.59L245.88 138.47L246.33 138.38L246.79 138.32L247.25 138.29L247.73 138.27L248.20 138.26L248.69 138.26L249.18 138.26L249.67 138.27L250.17 138.28L250.67 138.30L251.17 138.32L251.67 138.35L252.18 138.39L252.68 138.42L253.19 138.47L253.69 138.51L254.20 138.57L254.70 138.62L255.20 138.68L255.69 138.74L256.19 138.80L256.69 138.87L257.19 138.93L257.69 138.99L258.19 139.06L258.69 139.12L259.19 139.19L259.69 139.26L260.19 139.33L260.69 139.40L261.19 139.47L261.69 139.54L262.19 139.62L262.69 139.70L263.19 139.78L263.69 139.86L264.19 139.94L264.69 140.03L265.19 140.11L265.69 140.20L266.19 140.30L266.69 140.41L267.18 140.52L267.68 140.65L268.18 140.79L268.68 140.93L269.17 141.07L269.67 141.23L270.17 141.38L270.67 141.54L271.16 141.70L271.66 141.86L272.16 142.02L272.65 142.17L273.15 142.33L273.65 142.48L274.14 142.63L274.64 142.78L275.14 142.93L275.64 143.08L276.14 143.23L276.64 143.38L277.14 143.54L277.64 143.69L278.13 143.85L278.63 144.01L279.13 144.17L279.62 144.34L280.11 144.51L280.61 144.68L281.09 144.85L281.58 145.03L282.07 145.21L282.55 145.40L283.03 145.60L283.50 145.81L283.98 146.04L284.45 146.27L284.92 146.52L285.39 146.78L285.85 147.04L286.32 147.31L286.78 147.59L287.24 147.87L287.71 148.15L288.17 148.44L288.63 148.73L289.09 149.02L289.55 149.32L290.02 149.60L290.48 149.89L290.94 150.17L291.41 150.45L291.87 150.72L292.34 150.99L292.81 151.25L293.29 151.50L293.76 151.74L294.24 151.97L294.72 152.19L295.20 152.41L295.68 152.62L296.17 152.83L296.65 153.04L297.14 153.24L297.63 153.45L298.11 153.65L298.60 153.85L299.09 154.06L299.58 154.26L300.06 154.47L300.55 154.68L301.03 154.89L301.52 155.09L302.00 155.30L302.49 155.51L302.98 155.71L303.46 155.92L303.95 156.13L304.43 156.33L304.92 156.54L305.41 156.74L305.89 156.95L306.38 157.15L306.60 157.25L306.60 157.25L306.88 157.73L307.16 158.21L307.43 158.69L307.70 159.18L307.95 159.66L308.20 160.15L308.43 160.64L308.65 161.13L308.85 161.62L309.02 162.11L309.18 162.60L309.31 163.09L309.43 163.58L309.55 164.07L309.66 164.57L309.76 165.07L309.87 165.58L309.96 166.09L310.06 166.59L310.15 167.11L310.23 167.62L310.31 168.13L310.39 168.65L310.46 169.16L310.53 169.68L310.59 170.19L310.65 170.70L310.71 171.22L310.76 171.73L310.81 172.24L310.85 172.75L310.89 173.25L310.93 173.76L310.97 174.26L311.00 174.76L311.03 175.27L311.07 175.77L311.10 176.27L311.12 176.78L311.15 177.28L311.18 177.79L311.20 178.29L311.22 178.79L311.25 179.30L311.27 179.80L311.29 180.31L311.31 180.81L311.33 181.32L311.35 181.82L311.37 182.32L311.39 182.83L311.41 183.33L311.43 183.83L311.45 184.34L311.47 184.84L311.50 185.35L311.52 185.85L311.54 186.35L311.56 186.86L311.58 187.36L311.60 187.86L311.62 188.37L311.64 188.87L311.66 189.37L311.68 189.88L311.70 190.38L311.72 190.88L311.74 191.39L311.76 191.89L311.78 192.39L311.80 192.89L311.82 193.40L311.84 193.90L311.85 194.40L311.87 194.91L311.89 195.41L311.91 195.91L311.92 196.42L311.94 196.92L311.96 197.42L311.97 197.92L311.99 198.43L312.00 198.73L312.00 198.73L312.43 199.09L312.87 199.43L313.32 199.77L313.77 200.09L314.22 200.40L314.67 200.69L315.14 200.97L315.60 201.23L316.07 201.48L316.54 201.72L317.01 201.94L317.49 202.15L317.97 202.33L318.47 202.50L318.97 202.66L319.46 202.84L319.95 203.03L320.42 203.24L320.90 203.47L321.37 203.70L321.84 203.95L322.30 204.20L322.77 204.47L323.23 204.74L323.69 205.02L324.15 205.31L324.61 205.60L325.07 205.89L325.53 206.19L325.98 206.49L326.44 206.78L326.90 207.08L327.36 207.38L327.82 207.67L328.28 207.95L328.74 208.24L329.20 208.51L329.67 208.78L330.14 209.04L330.61 209.30L331.08 209.55L331.55 209.81L332.02 210.06L332.49 210.31L332.96 210.56L333.43 210.81L333.91 211.06L334.38 211.31L334.85 211.56L335.33 211.80L335.80 212.05L336.27 212.30L336.75 212.54L337.22 212.78L337.70 213.03L338.17 213.27L338.65 213.51L339.13 213.75L339.60 213.99L340.08 214.23L340.56 214.47L341.03 214.70L341.51 214.94L341.99 215.17L342.47 215.41L342.95 215.64L343.42 215.88L343.90 216.11L344.38 216.34L344.86 216.57L345.34 216.81L345.82 217.04L346.30 217.27L346.77 217.49L347.25 217.72L347.73 217.95L348.21 218.18L348.69 218.41L349.17 218.64L349.65 218.87L350.13 219.10L350.61 219.32L351.09 219.55L351.57 219.78L352.06 220.00L352.54 220.23L353.02 220.45L353.50 220.68L353.98 220.90L354.46 221.12L354.95 221.34L355.43 221.56L355.91 221.78L356.40 222.00L356.88 222.22L357.36 222.43L357.85 222.65L358.33 222.86L358.82 223.07L359.30 223.28L359.79 223.49L360.27 223.69L360.76 223.90L361.24 224.10L361.73 224.30L362.22 224.50L362.70 224.70L363.19 224.89L363.68 225.09L364.17 225.28L364.65 225.48L365.14 225.67L365.63 225.86L366.12 226.05L366.61 226.24L367.10 226.43L367.59 226.62L368.08 226.81L368.57 227.00L369.06 227.18L369.55 227.37L370.04 227.55L370.53 227.73L371.02 227.92L371.51 228.10L372.01 228.28L372.50 228.46L372.99 228.63L373.48 228.81L373.98 228.99L374.47 229.16L374.96 229.33L375.46 229.51L375.95 229.68L376.45 229.85L376.94 230.02L377.44 230.18L377.93 230.35L378.43 230.51L378.92 230.68L379.10 230.74" stroke="#0647fc" stroke-width="1.75" stroke-dasharray="2.5 2.05"/>
<path d="M57.60 40.50L58.10 40.59L58.60 40.67L59.10 40.76L59.60 40.85L60.10 40.94L60.60 41.02L61.10 41.11L61.60 41.20L62.10 41.29L62.60 41.38L63.11 41.46L63.61 41.55L64.11 41.64L64.61 41.73L65.11 41.81L65.61 41.90L66.11 41.99L66.61 42.08L67.11 42.16L67.61 42.25L68.11 42.34L68.61 42.42L69.11 42.51L69.61 42.60L70.11 42.69L70.61 42.77L71.11 42.86L71.61 42.95L72.11 43.04L72.61 43.12L73.11 43.21L73.62 43.30L74.12 43.39L74.62 43.48L75.12 43.56L75.62 43.65L76.12 43.74L76.62 43.83L77.12 43.91L77.62 44.00L78.12 44.09L78.62 44.17L79.12 44.26L79.62 44.35L80.12 44.44L80.62 44.52L81.12 44.61L81.62 44.70L82.12 44.79L82.62 44.88L83.12 44.96L83.62 45.05L84.13 45.14L84.63 45.23L85.13 45.31L85.63 45.40L86.13 45.49L86.63 45.58L87.13 45.66L87.63 45.75L88.13 45.84L88.63 45.92L89.13 46.01L89.63 46.10L90.13 46.19L90.63 46.27L91.13 46.36L91.63 46.45L92.13 46.54L92.63 46.62L93.13 46.71L93.63 46.80L94.14 46.89L94.64 46.98L95.14 47.06L95.64 47.15L96.14 47.24L96.64 47.33L97.14 47.41L97.64 47.50L98.14 47.59L98.64 47.68L99.14 47.76L99.64 47.85L100.14 47.94L100.64 48.03L101.14 48.11L101.64 48.20L102.14 48.29L102.64 48.38L103.14 48.46L103.64 48.55L104.14 48.64L104.65 48.73L105.15 48.81L105.65 48.90L106.15 48.99L106.65 49.08L107.15 49.16L107.65 49.25L108.15 49.34L108.65 49.43L109.15 49.51L109.65 49.60L109.65 49.60L109.66 50.10L109.68 50.60L109.69 51.10L109.70 51.60L109.71 52.10L109.73 52.60L109.74 53.10L109.75 53.60L109.76 54.10L109.78 54.60L109.79 55.10L109.80 55.60L109.81 56.10L109.83 56.60L109.84 57.10L109.85 57.60L109.86 58.10L109.87 58.60L109.89 59.10L109.90 59.60L109.91 60.10L109.92 60.60L109.93 61.10L109.94 61.60L109.96 62.10L109.97 62.60L109.98 63.10L109.99 63.60L110.00 64.10L110.01 64.60L110.02 65.10L110.04 65.60L110.05 66.10L110.06 66.60L110.07 67.10L110.08 67.59L110.09 68.09L110.10 68.59L110.11 69.09L110.12 69.59L110.13 70.09L110.14 70.59L110.15 71.09L110.16 71.59L110.17 72.09L110.18 72.59L110.19 73.09L110.20 73.59L110.21 74.09L110.22 74.59L110.23 75.09L110.24 75.59L110.25 76.09L110.26 76.59L110.27 77.09L110.28 77.59L110.28 78.09L110.29 78.59L110.30 79.09L110.31 79.59L110.32 80.09L110.33 80.59L110.33 81.09L110.34 81.59L110.35 82.09L110.36 82.59L110.37 83.09L110.38 83.59L110.39 84.09L110.39 84.59L110.40 85.09L110.41 85.59L110.42 86.09L110.43 86.59L110.44 87.09L110.45 87.59L110.46 88.09L110.47 88.59L110.47 89.09L110.48 89.59L110.49 90.09L110.50 90.59L110.51 91.09L110.52 91.59L110.53 92.09L110.55 92.59L110.56 93.09L110.57 93.59L110.58 94.09L110.59 94.59L110.60 95.09L110.61 95.59L110.63 96.09L110.64 96.59L110.65 97.09L110.67 97.59L110.68 98.09L110.70 98.59L110.71 99.09L110.73 99.59L110.74 100.09L110.76 100.59L110.77 101.09L110.79 101.59L110.81 102.09L110.82 102.59L110.84 103.09L110.86 103.59L110.87 104.09L110.89 104.59L110.90 105.09L110.92 105.59L110.93 106.08L110.95 106.58L110.96 107.08L110.98 107.58L110.99 108.08L111.01 108.58L111.03 109.08L111.04 109.58L111.06 110.08L111.07 110.58L111.09 111.08L111.10 111.58L111.12 112.08L111.14 112.58L111.16 113.08L111.17 113.58L111.19 114.08L111.21 114.58L111.23 115.08L111.25 115.58L111.27 116.08L111.29 116.58L111.31 117.08L111.33 117.58L111.35 118.08L111.37 118.58L111.39 119.08L111.41 119.58L111.44 120.08L111.46 120.58L111.48 121.08L111.50 121.58L111.53 122.08L111.55 122.58L111.58 123.08L111.60 123.58L111.63 124.08L111.65 124.58L111.68 125.08L111.71 125.58L111.74 126.08L111.76 126.58L111.80 127.07L111.83 127.57L111.86 128.07L111.89 128.57L111.93 129.07L111.96 129.57L112.00 130.07L112.03 130.56L112.07 131.06L112.11 131.56L112.15 132.05L112.20 132.55L112.25 133.05L112.31 133.54L112.37 134.04L112.43 134.54L112.50 135.03L112.57 135.53L112.65 136.02L112.72 136.52L112.80 137.01L112.88 137.51L112.96 138.00L113.05 138.49L113.13 138.99L113.21 139.48L113.30 139.97L113.38 140.47L113.46 140.96L113.55 141.45L113.64 141.94L113.73 142.44L113.82 142.93L113.92 143.42L114.01 143.91L114.11 144.40L114.22 144.89L114.32 145.38L114.43 145.87L114.53 146.35L114.64 146.84L114.76 147.33L114.87 147.82L114.98 148.31L115.10 148.79L115.22 149.28L115.34 149.77L115.47 150.26L115.59 150.74L115.73 151.23L115.86 151.71L116.00 152.19L116.14 152.67L116.29 153.14L116.44 153.62L116.59 154.09L116.75 154.56L116.92 155.02L117.10 155.49L117.28 155.96L117.47 156.43L117.66 156.89L117.86 157.36L118.07 157.82L118.29 158.27L118.51 158.73L118.73 159.18L118.97 159.62L119.20 160.06L119.45 160.49L119.69 160.92L119.95 161.34L120.22 161.75L120.50 162.15L120.80 162.55L121.11 162.95L121.43 163.34L121.75 163.72L122.07 164.11L122.40 164.49L122.73 164.88L123.05 165.27L123.37 165.66L123.68 166.05L123.99 166.44L124.30 166.83L124.61 167.22L124.93 167.61L125.24 168.00L125.56 168.39L125.87 168.77L126.19 169.16L126.30 169.30L126.30 169.30L126.45 169.78L126.59 170.26L126.74 170.73L126.89 171.21L127.04 171.69L127.19 172.17L127.34 172.64L127.49 173.12L127.64 173.60L127.80 174.07L127.95 174.55L128.11 175.02L128.26 175.50L128.42 175.97L128.58 176.45L128.74 176.92L128.90 177.39L129.06 177.87L129.22 178.34L129.39 178.81L129.55 179.28L129.71 179.76L129.88 180.23L130.04 180.70L130.20 181.18L130.36 181.65L130.52 182.13L130.69 182.60L130.86 183.08L131.03 183.54L131.21 184.01L131.40 184.47L131.60 184.92L131.80 185.37L132.02 185.82L132.23 186.27L132.46 186.71L132.69 187.15L132.92 187.60L133.16 188.03L133.41 188.47L133.66 188.91L133.92 189.34L134.17 189.77L134.44 190.21L134.70 190.63L134.97 191.06L135.24 191.49L135.51 191.91L135.79 192.33L136.07 192.75L136.35 193.17L136.63 193.58L136.91 193.99L137.19 194.41L137.47 194.81L137.75 195.22L138.04 195.63L138.33 196.03L138.62 196.43L138.92 196.84L139.22 197.24L139.52 197.63L139.83 198.03L140.14 198.42L140.45 198.82L140.76 199.21L141.08 199.60L141.40 199.99L141.72 200.37L142.04 200.76L142.37 201.14L142.69 201.52L143.02 201.90L143.35 202.28L143.68 202.66L144.02 203.03L144.35 203.41L144.68 203.78L145.02 204.15L145.36 204.52L145.69 204.88L146.03 205.25L146.37 205.62L146.71 205.98L147.05 206.35L147.39 206.72L147.73 207.08L148.08 207.45L148.43 207.82L148.77 208.18L149.12 208.54L149.47 208.91L149.83 209.27L150.18 209.63L150.54 209.98L150.90 210.34L151.26 210.69L151.62 211.04L151.98 211.38L152.35 211.73L152.72 212.07L153.09 212.40L153.46 212.73L153.84 213.06L154.22 213.39L154.60 213.71L154.98 214.02L155.36 214.33L155.75 214.63L156.14 214.93L156.54 215.23L156.94 215.52L157.34 215.80L157.75 216.08L158.16 216.36L158.58 216.64L158.99 216.91L159.42 217.18L159.84 217.44L160.27 217.71L160.70 217.97L161.13 218.23L161.56 218.48L162.00 218.73L162.44 218.99L162.87 219.24L163.31 219.48L163.75 219.73L164.19 219.98L164.63 220.22L165.07 220.46L165.51 220.71L165.95 220.95L166.38 221.19L166.82 221.43L167.26 221.67L167.70 221.90L168.14 222.13L168.59 222.36L169.03 222.59L169.48 222.81L169.93 223.03L170.38 223.25L170.83 223.47L171.28 223.69L171.73 223.91L172.18 224.12L172.63 224.34L173.08 224.55L173.53 224.77L173.99 224.99L174.44 225.20L174.89 225.42L175.34 225.64L175.79 225.86L176.24 226.08L176.68 226.31L177.13 226.53L177.58 226.76L178.02 226.99L178.46 227.22L178.90 227.46L179.34 227.69L179.78 227.93L180.22 228.18L180.65 228.42L181.08 228.67L181.52 228.92L181.95 229.17L182.38 229.42L182.82 229.67L183.25 229.93L183.68 230.18L184.12 230.43L184.55 230.67L184.98 230.92L185.42 231.17L185.86 231.41L186.29 231.66L186.72 231.91L187.16 232.16L187.59 232.41L188.03 232.66L188.46 232.91L188.89 233.16L189.33 233.41L189.76 233.67L190.19 233.91L190.63 234.16L191.06 234.41L191.50 234.65L191.94 234.90L192.38 235.14L192.82 235.38L193.26 235.61L193.70 235.85L194.14 236.08L194.59 236.30L195.03 236.52L195.48 236.74L195.93 236.96L196.38 237.17L196.83 237.38L197.29 237.58L197.74 237.79L198.20 237.99L198.66 238.19L199.12 238.38L199.58 238.58L200.04 238.77L200.51 238.96L200.97 239.14L201.44 239.33L201.91 239.51L202.37 239.69L202.40 239.70L202.40 239.70L202.54 240.19L202.69 240.67L202.85 241.15L203.01 241.63L203.18 242.11L203.35 242.58L203.53 243.05L203.72 243.52L203.91 243.98L204.10 244.44L204.30 244.90L204.51 245.36L204.72 245.81L204.93 246.26L205.15 246.71L205.36 247.15L205.59 247.59L205.81 248.03L206.05 248.46L206.29 248.89L206.54 249.32L206.81 249.75L207.08 250.17L207.35 250.59L207.64 251.00L207.92 251.42L208.22 251.83L208.51 252.23L208.81 252.64L209.11 253.04L209.42 253.44L209.72 253.84L210.03 254.23L210.33 254.63L210.64 255.01L210.96 255.40L211.28 255.79L211.60 256.17L211.93 256.55L212.26 256.92L212.59 257.29L212.93 257.66L213.27 258.03L213.62 258.40L213.96 258.76L214.10 258.90L214.10 258.90L214.17 259.40L214.24 259.89L214.31 260.39L214.39 260.88L214.47 261.38L214.55 261.87L214.63 262.37L214.72 262.86L214.81 263.35L214.90 263.84L214.99 264.34L215.09 264.83L215.18 265.32L215.28 265.81L215.38 266.30L215.48 266.79L215.59 267.27L215.69 267.76L215.80 268.25L215.91 268.74L216.02 269.23L216.13 269.71L216.24 270.20L216.36 270.68L216.48 271.17L216.60 271.65L216.73 272.13L216.86 272.62L217.00 273.10L217.14 273.58L217.28 274.06L217.42 274.54L217.56 275.02L217.71 275.50L217.80 275.80L217.80 275.80L217.81 275.24L217.84 274.69L217.88 274.15L217.94 273.62L218.01 273.10L218.09 272.59L218.19 272.09L218.30 271.59L218.41 271.11L218.54 270.64L218.67 270.18L218.81 269.74L218.95 269.30L219.10 268.88L219.25 268.47L219.45 268.07L219.70 267.70L220.00 267.33L220.34 266.98L220.71 266.64L221.10 266.31L221.51 265.98L221.93 265.65L222.36 265.32L222.79 264.99L223.20 264.65L223.60 264.31L223.98 263.95L224.32 263.59L224.64 263.21L224.95 262.82L225.25 262.43L225.54 262.02L225.83 261.61L226.11 261.20L226.39 260.78L226.67 260.36L226.94 259.93L227.21 259.51L227.49 259.09L227.77 258.67L228.05 258.25L228.33 257.84L228.62 257.43L228.92 257.03L229.22 256.64L229.54 256.26L229.86 255.87L230.18 255.49L230.51 255.10L230.84 254.71L231.17 254.33L231.51 253.95L231.85 253.57L232.20 253.20L232.56 252.84L232.92 252.49L233.29 252.15L233.66 251.83L234.04 251.52L234.42 251.23L234.82 250.95L235.23 250.69L235.65 250.45L236.08 250.21L236.53 249.99L236.98 249.77L237.44 249.56L237.90 249.35L238.36 249.14L238.83 248.93L239.29 248.73L239.75 248.51L240.21 248.30L240.66 248.07L241.10 247.84L241.54 247.58L241.97 247.31L242.41 247.04L242.84 246.75L243.27 246.47L243.70 246.19L244.13 245.91L244.56 245.65L245.00 245.40L245.44 245.17L245.88 244.97L246.33 244.80L246.79 244.65L247.25 244.54L247.73 244.44L248.20 244.34L248.69 244.25L249.18 244.16L249.67 244.08L250.17 244.00L250.67 243.93L251.17 243.86L251.67 243.80L252.18 243.74L252.68 243.69L253.19 243.64L253.69 243.59L254.20 243.55L254.70 243.52L255.20 243.49L255.69 243.46L256.19 243.43L256.69 243.40L257.19 243.37L257.69 243.35L258.19 243.32L258.69 243.29L259.19 243.27L259.69 243.25L260.19 243.23L260.69 243.21L261.19 243.19L261.69 243.17L262.19 243.15L262.69 243.14L263.19 243.13L263.69 243.12L264.19 243.11L264.69 243.10L265.19 243.10L265.69 243.10L266.19 243.11L266.69 243.12L267.18 243.15L267.68 243.19L268.18 243.23L268.68 243.28L269.17 243.34L269.67 243.40L270.17 243.46L270.67 243.53L271.16 243.60L271.66 243.67L272.16 243.74L272.65 243.81L273.15 243.87L273.65 243.93L274.14 243.99L274.64 244.05L275.14 244.11L275.64 244.17L276.14 244.23L276.64 244.29L277.14 244.35L277.64 244.42L278.13 244.49L278.63 244.56L279.13 244.63L279.62 244.70L280.11 244.78L280.61 244.86L281.09 244.95L281.58 245.04L282.07 245.13L282.55 245.23L283.03 245.34L283.50 245.47L283.98 245.61L284.45 245.76L284.92 245.92L285.39 246.09L285.85 246.27L286.32 246.46L286.78 246.65L287.24 246.85L287.71 247.05L288.17 247.25L288.63 247.46L289.09 247.66L289.55 247.87L290.02 248.08L290.48 248.28L290.94 248.48L291.41 248.67L291.87 248.86L292.34 249.04L292.81 249.21L293.29 249.37L293.76 249.53L294.24 249.67L294.72 249.80L295.20 249.93L295.68 250.06L296.17 250.18L296.65 250.30L297.14 250.42L297.63 250.54L298.11 250.65L298.60 250.76L299.09 250.88L299.58 251.00L300.06 251.12L300.55 251.23L301.03 251.35L301.52 251.47L302.00 251.59L302.49 251.71L302.98 251.83L303.46 251.95L303.95 252.06L304.43 252.18L304.92 252.30L305.41 252.41L305.89 252.53L306.38 252.65L306.60 252.70L306.60 252.70L306.88 253.13L307.16 253.56L307.43 253.99L307.70 254.43L307.95 254.87L308.20 255.32L308.43 255.76L308.65 256.21L308.85 256.67L309.02 257.12L309.18 257.58L309.31 258.05L309.43 258.52L309.55 258.99L309.66 259.47L309.76 259.95L309.87 260.44L309.96 260.93L310.06 261.42L310.15 261.92L310.23 262.41L310.31 262.91L310.39 263.41L310.46 263.91L310.53 264.42L310.59 264.92L310.65 265.42L310.71 265.93L310.76 266.43L310.81 266.93L310.85 267.43L310.89 267.93L310.93 268.42L310.97 268.92L311.00 269.42L311.03 269.91L311.07 270.41L311.10 270.91L311.12 271.41L311.15 271.91L311.18 272.41L311.20 272.91L311.22 273.41L311.25 273.91L311.27 274.41L311.29 274.91L311.31 275.41L311.33 275.91L311.35 276.41L311.37 276.91L311.39 277.41L311.41 277.91L311.43 278.41L311.45 278.91L311.47 279.41L311.50 279.91L311.52 280.41L311.54 280.91L311.56 281.41L311.58 281.91L311.60 282.41L311.62 282.91L311.64 283.41L311.66 283.91L311.68 284.41L311.70 284.91L311.72 285.40L311.74 285.90L311.76 286.40L311.78 286.90L311.80 287.40L311.82 287.90L311.84 288.40L311.85 288.90L311.87 289.40L311.89 289.90L311.91 290.40L311.92 290.90L311.94 291.40L311.96 291.90L311.97 292.40L311.99 292.90L312.00 293.20L312.00 293.20L312.43 293.48L312.87 293.75L313.32 294.00L313.77 294.24L314.22 294.46L314.67 294.67L315.14 294.87L315.60 295.05L316.07 295.22L316.54 295.37L317.01 295.50L317.49 295.62L317.97 295.71L318.47 295.79L318.97 295.87L319.46 295.95L319.95 296.06L320.42 296.18L320.90 296.32L321.37 296.47L321.84 296.63L322.30 296.80L322.77 296.98L323.23 297.17L323.69 297.37L324.15 297.57L324.61 297.78L325.07 297.99L325.53 298.20L325.98 298.41L326.44 298.63L326.90 298.84L327.36 299.05L327.82 299.26L328.28 299.47L328.74 299.66L329.20 299.85L329.67 300.04L330.14 300.21L330.61 300.38L331.08 300.55L331.55 300.72L332.02 300.89L332.49 301.06L332.96 301.22L333.43 301.39L333.91 301.55L334.38 301.71L334.85 301.87L335.33 302.03L335.80 302.19L336.27 302.35L336.75 302.51L337.22 302.67L337.70 302.82L338.17 302.98L338.65 303.13L339.13 303.29L339.60 303.44L340.08 303.59L340.56 303.74L341.03 303.89L341.51 304.04L341.99 304.19L342.47 304.34L342.95 304.49L343.42 304.63L343.90 304.78L344.38 304.92L344.86 305.07L345.34 305.21L345.82 305.36L346.30 305.50L346.77 305.64L347.25 305.78L347.73 305.93L348.21 306.07L348.69 306.21L349.17 306.35L349.65 306.49L350.13 306.63L350.61 306.77L351.09 306.91L351.57 307.05L352.06 307.19L352.54 307.33L353.02 307.46L353.50 307.60L353.98 307.74L354.46 307.87L354.95 308.00L355.43 308.14L355.91 308.27L356.40 308.40L356.88 308.53L357.36 308.65L357.85 308.78L358.33 308.90L358.82 309.03L359.30 309.15L359.79 309.27L360.27 309.38L360.76 309.50L361.24 309.61L361.73 309.73L362.22 309.84L362.70 309.94L363.19 310.05L363.68 310.16L364.17 310.26L364.65 310.37L365.14 310.47L365.63 310.58L366.12 310.68L366.61 310.78L367.10 310.88L367.59 310.98L368.08 311.08L368.57 311.18L369.06 311.27L369.55 311.37L370.04 311.46L370.53 311.56L371.02 311.65L371.51 311.74L372.01 311.83L372.50 311.92L372.99 312.01L373.48 312.10L373.98 312.18L374.47 312.27L374.96 312.35L375.46 312.43L375.95 312.51L376.45 312.59L376.94 312.67L377.44 312.75L377.93 312.83L378.43 312.90L378.92 312.97L379.10 313.00" stroke="#ff0000" stroke-width="1.85"/>
</g>
<rect x="157.5" y="19.4" width="216" height="22.2" fill="#fff"/>
<rect x="229" y="43.2" width="65.5" height="27" fill="#fff"/>
<rect x="57.60" y="13.00" width="321.50" height="321.70" fill="none" stroke="#000" stroke-width="2"/>
<g stroke="#000" stroke-width="2">
<line x1="57.60" y1="276.21" x2="61.00" y2="276.21"/>
<line x1="57.60" y1="217.72" x2="61.00" y2="217.72"/>
<line x1="57.60" y1="159.23" x2="61.00" y2="159.23"/>
<line x1="57.60" y1="100.74" x2="61.00" y2="100.74"/>
<line x1="57.60" y1="42.25" x2="61.00" y2="42.25"/>
<line x1="169.96" y1="334.70" x2="169.96" y2="330.90"/>
<line x1="218.35" y1="334.70" x2="218.35" y2="330.90"/>
<line x1="330.71" y1="334.70" x2="330.71" y2="330.90"/>
</g>
<g font-family="'Liberation Sans', sans-serif" fill="#000">
<text x="54.0" y="340.80" text-anchor="end" font-size="18.0">10<tspan font-size="12.3" dy="-6.7">−4</tspan></text>
<text x="54.0" y="282.31" text-anchor="end" font-size="18.0">10<tspan font-size="12.3" dy="-6.7">−2</tspan></text>
<text x="54.0" y="223.82" text-anchor="end" font-size="18.0">10<tspan font-size="12.3" dy="-6.7">0</tspan></text>
<text x="54.0" y="165.33" text-anchor="end" font-size="18.0">10<tspan font-size="12.3" dy="-6.7">2</tspan></text>
<text x="54.0" y="106.84" text-anchor="end" font-size="18.0">10<tspan font-size="12.3" dy="-6.7">4</tspan></text>
<text x="54.0" y="48.35" text-anchor="end" font-size="18.0">10<tspan font-size="12.3" dy="-6.7">6</tspan></text>
<text x="56.80" y="352.80" font-size="17.30" text-anchor="middle">0.1</text>
<text x="169.96" y="352.80" font-size="17.30" text-anchor="middle">0.5</text>
<text x="218.35" y="352.80" font-size="17.30" text-anchor="middle">1</text>
<text x="330.71" y="352.80" font-size="17.30" text-anchor="middle">5</text>
<text x="380.00" y="352.80" font-size="17.30" text-anchor="middle">10</text>
<text x="167.40" y="379.40" font-size="18.00" font-style="italic">m</text>
<g transform="translate(187.40,379.70)" fill="none" stroke="#000" stroke-width="1.18" stroke-linecap="butt"><ellipse rx="3.10" ry="3.03" transform="skewX(-14)"/><line x1="-1.74" y1="5.60" x2="1.74" y2="-5.60"/></g>
<text x="197.20" y="379.40" font-size="17.30">[GeV]</text>
<g transform="translate(17.1,198.3) rotate(-90)">
<text x="-0.20" y="0.00" font-size="18.20" font-style="italic">d</text>
<text x="16.40" y="0.00" font-size="17.30" textLength="25.20" lengthAdjust="spacing">[m]</text>
<line x1="0.9" y1="-15.8" x2="11.3" y2="-15.8" stroke="#000" stroke-width="1.3"/></g>
<text x="158.40" y="34.90" font-size="18.00" font-weight="bold" textLength="148.30" lengthAdjust="spacing">Decay Length for</text>
<text x="314.80" y="34.90" font-size="18.00" font-weight="bold" font-style="italic">θ</text>
<text x="324.00" y="34.90" font-size="18.00" font-weight="bold" textLength="29.80" lengthAdjust="spacing">=10</text>
<text x="354.90" y="29.70" font-size="13.00" font-weight="bold" textLength="15.60" lengthAdjust="spacing">−4</text>
<text x="230.70" y="61.50" font-size="15.50" fill="#0808fa" font-style="italic">d</text>
<line x1="231.4" y1="48.2" x2="242.0" y2="48.2" stroke="#0808fa" stroke-width="1.2"/>
<text x="240.30" y="62.00" font-size="15.50" fill="#0808fa">=</text>
<text x="249.20" y="61.50" font-size="15.50" fill="#0808fa">c</text>
<text x="257.80" y="61.50" font-size="15.50" fill="#0808fa" font-style="italic">τ</text>
<g transform="translate(267.90,61.10)" fill="none" stroke="#0808fa" stroke-width="1.03" stroke-linecap="butt"><ellipse rx="2.71" ry="2.65" transform="skewX(-14)"/><line x1="-1.52" y1="4.90" x2="1.52" y2="-4.90"/></g>
<text x="273.00" y="61.50" font-size="15.50" fill="#0808fa" font-style="italic">β</text>
<text x="281.60" y="61.50" font-size="15.50" fill="#0808fa" font-style="italic">γ</text>
<text x="289.30" y="61.50" font-size="15.50" fill="#0808fa">:</text>
<line x1="229.4" y1="79.5" x2="264.6" y2="79.5" stroke="#5badff" stroke-width="1.7" stroke-dasharray="5.4 2.0"/>
<text x="278.10" y="82.50" font-size="15.50" fill="#5badff" font-style="italic">E</text>
<g transform="translate(292.00,82.10)" fill="none" stroke="#5badff" stroke-width="1.03" stroke-linecap="butt"><ellipse rx="2.71" ry="2.65" transform="skewX(-14)"/><line x1="-1.52" y1="4.90" x2="1.52" y2="-4.90"/></g>
<text x="295.90" y="82.50" font-size="15.50" fill="#5badff">=100 GeV</text>
<line x1="229.4" y1="101.1" x2="264.6" y2="101.1" stroke="#0a7bff" stroke-width="2.1"/>
<text x="278.10" y="104.30" font-size="15.50" fill="#0a7bff" font-style="italic">E</text>
<g transform="translate(292.00,103.90)" fill="none" stroke="#0a7bff" stroke-width="1.03" stroke-linecap="butt"><ellipse rx="2.71" ry="2.65" transform="skewX(-14)"/><line x1="-1.52" y1="4.90" x2="1.52" y2="-4.90"/></g>
<text x="295.90" y="104.30" font-size="15.50" fill="#0a7bff">=1 TeV</text>
<line x1="229.4" y1="123.0" x2="264.6" y2="123.0" stroke="#0647fc" stroke-width="2.1" stroke-dasharray="2.3 2.36"/>
<text x="278.10" y="125.30" font-size="15.50" fill="#0647fc" font-style="italic">E</text>
<g transform="translate(292.00,124.90)" fill="none" stroke="#0647fc" stroke-width="1.03" stroke-linecap="butt"><ellipse rx="2.71" ry="2.65" transform="skewX(-14)"/><line x1="-1.52" y1="4.90" x2="1.52" y2="-4.90"/></g>
<text x="295.90" y="125.30" font-size="15.50" fill="#0647fc">=6.5 TeV</text>
<text x="143.10" y="242.60" font-size="15.50" fill="#ff0000">c</text>
<text x="152.10" y="242.60" font-size="15.50" fill="#ff0000" font-style="italic">τ</text>
<g transform="translate(162.40,242.20)" fill="none" stroke="#ff0000" stroke-width="1.05" stroke-linecap="butt"><ellipse rx="2.76" ry="2.71" transform="skewX(-14)"/><line x1="-1.55" y1="5.00" x2="1.55" y2="-5.00"/></g>
</g>
</svg>
</body></html>
